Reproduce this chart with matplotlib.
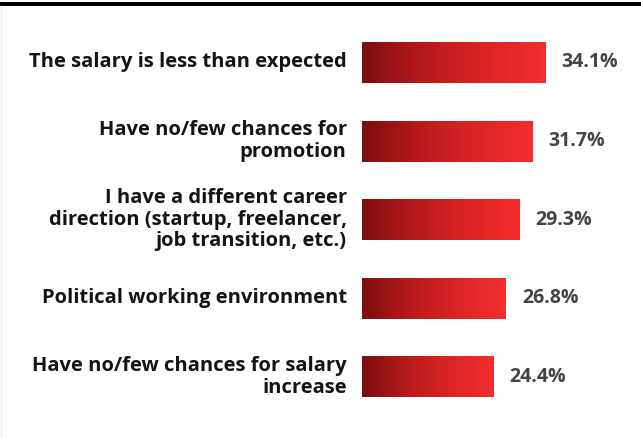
import matplotlib.pyplot as plt
import numpy as np
from matplotlib.colors import LinearSegmentedColormap
from matplotlib.lines import Line2D

plt.rcParams["font.family"] = ["Open Sans", "DejaVu Sans"]

reasons = [
    "The salary is less than expected",
    "Have no/few chances for\npromotion",
    "I have a different career\ndirection (startup, freelancer,\njob transition, etc.)",
    "Political working environment",
    "Have no/few chances for salary\nincrease",
]
shares = [34.1, 31.7, 29.3, 26.8, 24.4]

W, H = 641, 437
fig = plt.figure(figsize=(W / 100, H / 100), dpi=100)
fig.patch.set_facecolor("white")

ax = fig.add_axes([362 / W, 0, 279 / W, 1])
ax.set_xlim(0, 279 / 5.37)
ax.set_ylim(4.765, -0.795)
ax.axis("off")

cmap = LinearSegmentedColormap.from_list("redgrad", ["#7c0e0e", "#b81a1a", "#dc2424", "#f32e2e"])
grad = np.linspace(0, 1, 256).reshape(1, -1)

y = np.arange(len(reasons))
bars = ax.barh(y, shares, height=0.52, color="none", edgecolor="none")
for b in bars:
    x0, y0 = b.get_x(), b.get_y()
    im = ax.imshow(grad, cmap=cmap, aspect="auto",
                   extent=(x0, x0 + b.get_width(), y0 + b.get_height(), y0),
                   interpolation="bilinear")
    im.set_clip_path(b)

for yi, lab, v in zip(y, reasons, shares):
    ax.annotate(lab, xy=(0, yi), xytext=(-11, 0), textcoords="offset points",
                ha="right", va="center", fontsize=14.5, fontweight="bold",
                color="#141414", linespacing=1.12, annotation_clip=False)
    ax.annotate(f"{v}%", xy=(v, yi), xytext=(11.5, 0), textcoords="offset points",
                ha="left", va="center", fontsize=14, fontweight="bold",
                color="#444444", annotation_clip=False)

# black rule across the top and faint left edge
fig.add_artist(Line2D([0, 1], [1 - 4 / H, 1 - 4 / H], transform=fig.transFigure,
                      color="black", linewidth=2.9))
fig.add_artist(Line2D([0.5 / W, 0.5 / W], [0, 1 - 6 / H], transform=fig.transFigure,
                      color="#eeeeee", linewidth=1))

plt.savefig("out.png", dpi=100)
